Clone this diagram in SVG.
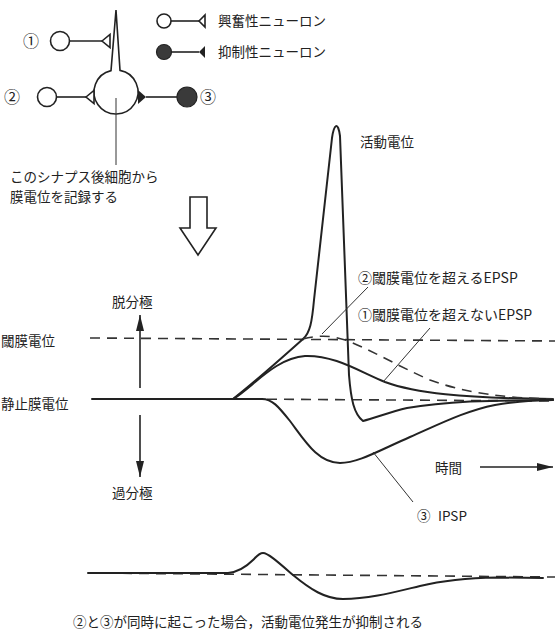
<svg xmlns="http://www.w3.org/2000/svg" width="555" height="632" viewBox="0 0 555 632">
<style>
text{font-family:"Noto Sans CJK JP","Liberation Sans",sans-serif;font-size:13.5px;fill:#222}
.num{font-size:16px}
.ln{fill:none;stroke:#222;stroke-width:1.6}
.tr{fill:none;stroke:#222;stroke-width:2;stroke-linejoin:round;stroke-linecap:round}
.dash{fill:none;stroke:#333;stroke-width:1.6;stroke-dasharray:10 7}
.thin{fill:none;stroke:#333;stroke-width:1}
.open{fill:#fff;stroke:#222;stroke-width:1.6}
.fill{fill:#3a3a3a;stroke:#222;stroke-width:1.2}
</style>
<defs>
<marker id="ah" viewBox="0 0 16 8" refX="16" refY="4" markerWidth="16" markerHeight="8" markerUnits="userSpaceOnUse" orient="auto"><path d="M0,0 L16,4 L0,8 z" fill="#222"/></marker>
</defs>
<rect width="555" height="632" fill="#fff"/>

<g id="legend-excitatory">
<circle class="open" cx="164" cy="21" r="7"/>
<line class="ln" x1="171" y1="21" x2="199" y2="21"/>
<path class="open" d="M199,21 L205,15 L205,27 z"/>
<text x="218" y="26">興奮性ニューロン</text>
</g>
<g id="legend-inhibitory">
<circle class="fill" cx="164" cy="52" r="7.5"/>
<line class="ln" x1="171" y1="52" x2="199" y2="52"/>
<path d="M199,52 L205,46 L205,58 z" fill="#222"/>
<text x="218" y="57">抑制性ニューロン</text>
</g>

<g id="soma">
<path class="open" d="M111,70.6 L116,10 L120,70.4 A22,22 0 1 1 111,70.6 z"/>
</g>
<g id="neuron1">
<text class="num" x="23" y="47">①</text>
<circle class="open" cx="60" cy="41" r="9.5"/>
</g>
<g id="neuron2">
<text class="num" x="4" y="103">②</text>
<circle class="open" cx="47" cy="97" r="9.5"/>
</g>
<g id="neuron3">
<circle class="fill" cx="187" cy="97" r="10"/>
<text class="num" x="200" y="103">③</text>
</g>

<g id="connectors">
<line class="ln" x1="69.5" y1="41" x2="102" y2="41"/>
<path class="open" d="M102,41 L110,34.5 L110,47.5 z"/>
<line class="ln" x1="56.5" y1="97" x2="86" y2="97"/>
<path class="open" d="M86,97 L94,90.5 L94,103.5 z"/>
<path d="M138,90 L146,97 L138,104 z" fill="#222"/>
<line class="ln" x1="146" y1="97" x2="177" y2="97"/>
<line class="thin" x1="116" y1="98" x2="116" y2="165"/>
</g>

<g id="record-note">
<text x="10" y="182">このシナプス後細胞から</text>
<text x="10" y="202">膜電位を記録する</text>
</g>

<g id="big-arrow">
<path d="M190,197 L207,197 L207,228 L216,228 L198,255 L180,228 L190,228 z" fill="#fff" stroke="#222" stroke-width="1.6"/>
</g>

<g id="axes">
<text x="112" y="307">脱分極</text>
<line class="ln" x1="140" y1="388" x2="140" y2="315" marker-end="url(#ah)"/>
<line class="ln" x1="140" y1="415" x2="140" y2="477" marker-end="url(#ah)"/>
<text x="112" y="498">過分極</text>
<text x="1" y="346">閾膜電位</text>
<text x="1" y="409">静止膜電位</text>
<text x="435" y="473">時間</text>
<line class="ln" x1="480" y1="467" x2="553" y2="467" marker-end="url(#ah)"/>
</g>

<g id="reference-lines">
<line class="dash" x1="90" y1="338" x2="555" y2="341"/>
<line class="dash" x1="233" y1="399" x2="555" y2="401"/>
<line class="tr" x1="92" y1="399" x2="262" y2="399"/>
</g>

<g id="traces">
<path id="action-potential" class="tr" d="M233,399 C250,386 275,364 303,339 C310,333 312,322 314,300 L332,138 C334,124 338,121 340,136 L349,375 C351,400 354,414 363,421 C375,418 390,412 407,408 C425,405 445,403 470,401.5 C500,400.5 530,400 553,400"/>
<path id="epsp1" class="tr" d="M233,399 C252,388 275,358 305,356 C335,355 360,372 385,382 C415,393 460,398 553,399"/>
<path id="epsp2-dashed" class="dash" stroke-width="2" d="M303,339 C318,335 332,335 348,341 C375,352 400,367 430,380 C465,393 505,398 553,399"/>
<path id="ipsp" class="tr" d="M262,399 C272,399 278,406 290,421 C305,441 318,463 340,463 C358,463 378,451 410,437 C440,424 465,411 495,405 C520,401 540,400 553,400"/>
</g>

<g id="trace-labels">
<text x="360" y="147">活動電位</text>
<text x="358" y="283" style="font-size:14px">②閾膜電位を超えるEPSP</text>
<line class="thin" x1="368" y1="287" x2="322" y2="334"/>
<text x="358" y="320" style="font-size:14px">①閾膜電位を超えないEPSP</text>
<line class="thin" x1="430" y1="328" x2="383" y2="382"/>
<line class="thin" x1="373" y1="452" x2="413" y2="502"/>
<text x="417" y="521">③ <tspan x="438">IPSP</tspan></text>
</g>

<g id="combined">
<line class="dash" x1="88" y1="573" x2="555" y2="577"/>
<path class="tr" d="M88,573 L228,573 C238,572 246,567 253,560 C257,556 259,553 263,553 C268,553 278,562 293,575 C310,589 325,599 343,599 C370,599 395,592 420,586 C445,580 470,578 497,577.5 L543,578"/>
<text x="73" y="627">②と③が同時に起こった場合，活動電位発生が抑制される</text>
</g>
</svg>
